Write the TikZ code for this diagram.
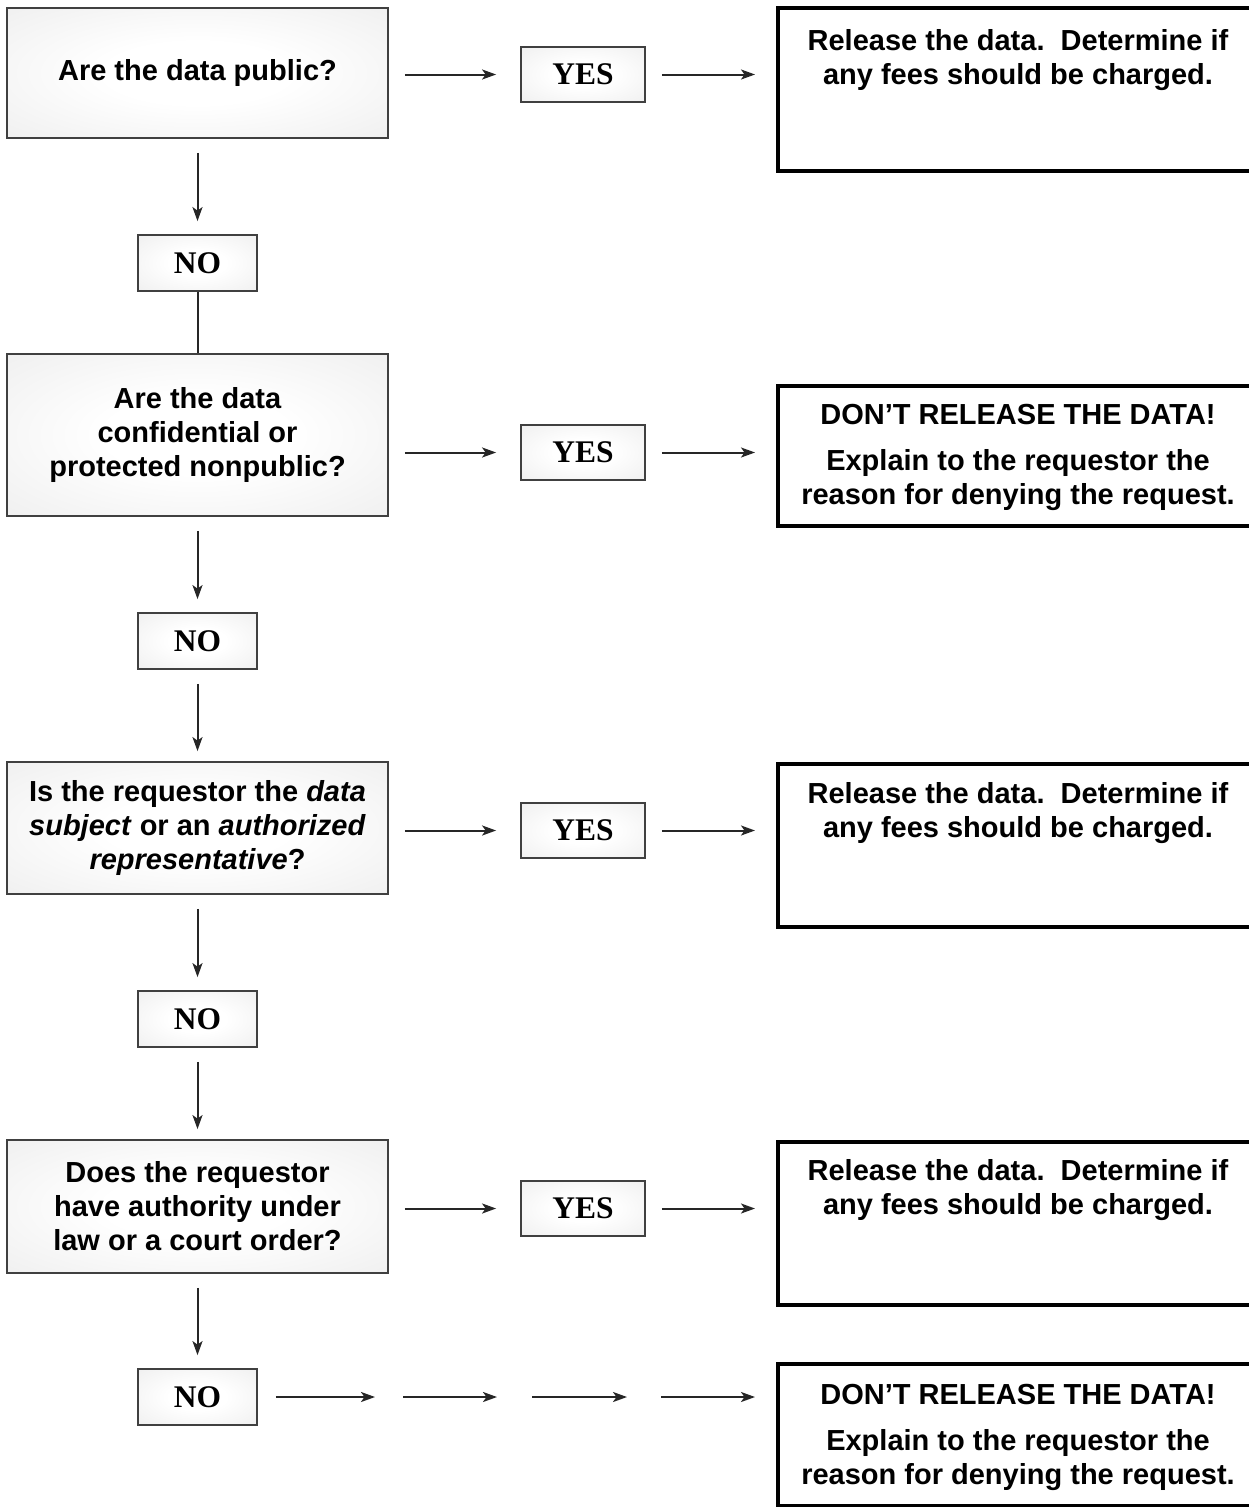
\documentclass[tikz,border=0pt]{standalone}
\usepackage{fontspec}
\setmainfont{Liberation Sans}
\newfontfamily\tnr{Liberation Serif}
\usetikzlibrary{arrows.meta}
\pgfdeclareradialshading{qshade}{\pgfpoint{0bp}{0bp}}{color(0bp)=(white); color(12bp)=(white); color(48bp)=(black!9); color(72bp)=(black!11)}
\begin{document}
\begin{tikzpicture}[x=1pt,y=-1pt,
  qbox/.style={draw=black!75, line width=1.8pt, shading=qshade, minimum width=381pt, align=center, inner sep=0pt,
    font=\fontsize{29}{34}\selectfont\bfseries},
  ans/.style={draw=black!75, line width=1.8pt, shading=qshade, minimum width=121pt, minimum height=55pt, inner sep=0pt,
    font=\tnr\fontsize{31.5}{36}\selectfont\bfseries},
  rbox/.style={draw=black, line width=4pt, fill=white, minimum width=482pt, inner sep=0pt},
  rtext/.style={align=center, inner sep=0pt, font=\fontsize{29}{34}\selectfont\bfseries},
  arr/.style={draw=black!85, line width=2pt, -{Stealth[length=14pt,width=10pt,inset=3.5pt]}},
  link/.style={draw=black!85, line width=2pt}
]
\clip (0,0) rectangle (1249,1507);
\fill[white] (0,0) rectangle (1249,1507);

% question boxes
\node[qbox, minimum height=130pt] (q1) at (197.5,73) {Are the data public?};
\node[qbox, minimum height=162pt] (q2) at (197.5,435) {Are the data\\confidential or\\protected nonpublic?};
\node[qbox, minimum height=132pt] (q3) at (197.5,828) {Is the requestor the \textit{data}\\\textit{subject} or an \textit{authorized}\\\textit{representative}?};
\node[qbox, minimum height=133pt] (q4) at (197.5,1206.5) {Does the requestor\\have authority under\\law or a court order?};

% YES boxes
\node[ans, minimum width=124pt] (y1) at (583,74.5) {YES};
\node[ans, minimum width=124pt] (y2) at (583,452.5) {YES};
\node[ans, minimum width=124pt] (y3) at (583,830.5) {YES};
\node[ans, minimum width=124pt] (y4) at (583,1208.5) {YES};

% NO boxes
\node[ans, minimum width=119pt, minimum height=56pt] (n1) at (197.5,263) {NO};
\node[ans, minimum width=119pt, minimum height=56pt] (n2) at (197.5,641) {NO};
\node[ans, minimum width=119pt, minimum height=56pt] (n3) at (197.5,1019) {NO};
\node[ans, minimum width=119pt, minimum height=56pt] (n4) at (197.5,1397) {NO};

% result boxes
\node[rbox, minimum height=163pt] (r1) at (1019,89.5) {};
\node[rbox, minimum height=140pt] (r2) at (1019,456) {};
\node[rbox, minimum height=163pt] (r3) at (1019,845.5) {};
\node[rbox, minimum height=163pt] (r4) at (1019,1223.5) {};
\node[rbox, minimum height=142pt] (r5) at (1019,1435) {};

\node[rtext] (t1) at (1018,60) {Release the data.\ \ Determine if\\any fees should be charged.};
\node[rtext] (t2) at (1018,457) {DON’T RELEASE THE DATA!\\[12pt]Explain to the requestor the\\reason for denying the request.};
\node[rtext] (t3) at (1018,813) {Release the data.\ \ Determine if\\any fees should be charged.};
\node[rtext] (t4) at (1018,1190) {Release the data.\ \ Determine if\\any fees should be charged.};
\node[rtext] (t5) at (1018,1437) {DON’T RELEASE THE DATA!\\[12pt]Explain to the requestor the\\reason for denying the request.};

% horizontal arrows
\foreach \i in {1,2,3,4}{
  \draw[arr, shorten <=16pt, shorten >=24pt] (q\i.east |- y\i.west) -- (y\i.west);
  \draw[arr, shorten <=16pt, shorten >=21pt] (y\i.east) -- (y\i.east -| r\i.west);
}

% vertical arrows
\foreach \i in {1,2,3,4}{
  \draw[arr, shorten <=14pt, shorten >=13pt] (q\i.south) -- (n\i.north);
}
\draw[link] (n1.south) -- (q2.north);
\draw[arr, shorten <=14pt, shorten >=10pt] (n2.south) -- (q3.north);
\draw[arr, shorten <=14pt, shorten >=10pt] (n3.south) -- (q4.north);

% bottom chain
\coordinate (c1) at (375,1397);
\coordinate (c2) at (403,1397);
\coordinate (c3) at (497,1397);
\coordinate (c4) at (532,1397);
\coordinate (c5) at (627,1397);
\coordinate (c6) at (661,1397);
\draw[arr, shorten <=18pt] (n4.east) -- (c1);
\draw[arr] (c2) -- (c3);
\draw[arr] (c4) -- (c5);
\draw[arr, shorten >=21pt] (c6) -- (c6 -| r5.west);
\end{tikzpicture}
\end{document}
